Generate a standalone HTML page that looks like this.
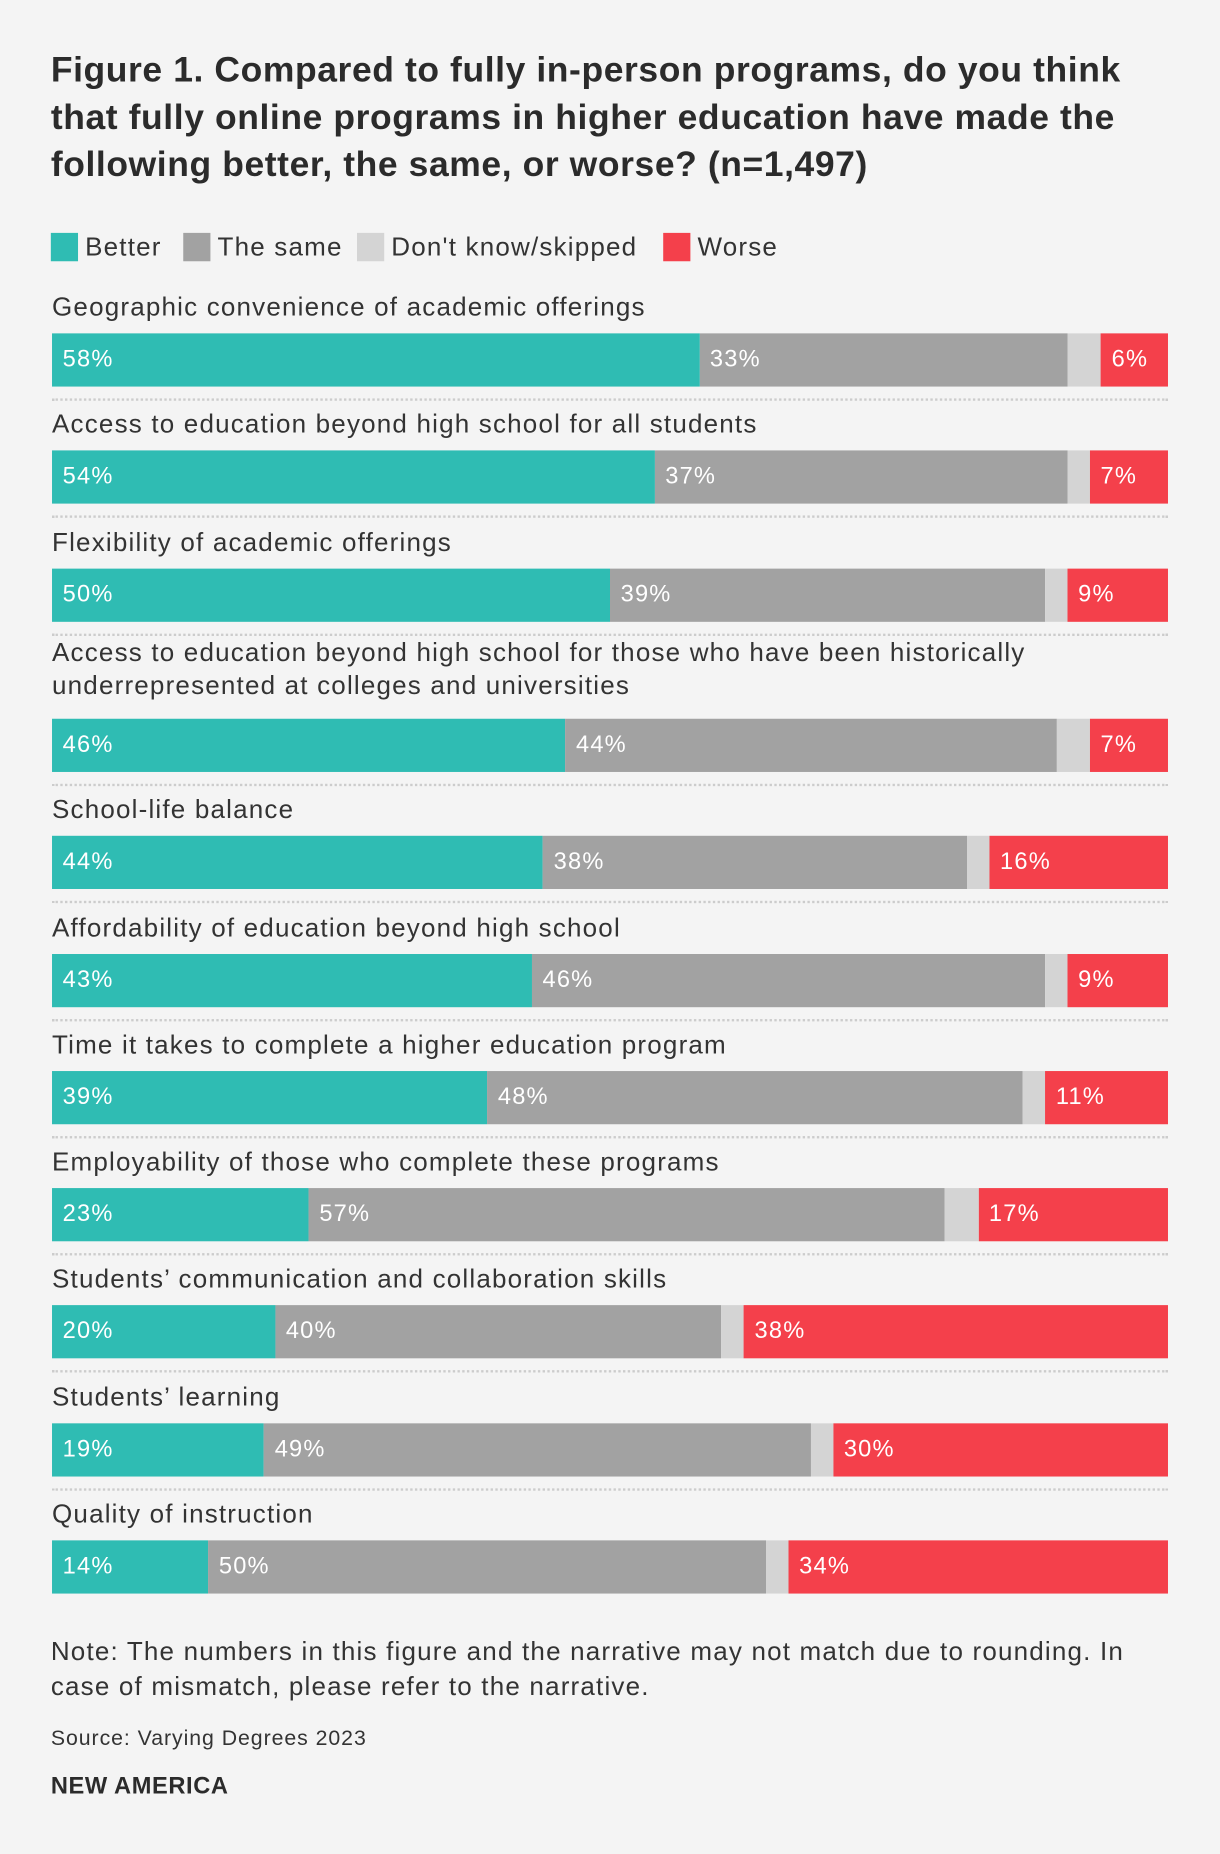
<!DOCTYPE html>
<html><head><meta charset="utf-8"><style>
html,body{margin:0;padding:0;background:#f4f4f4;}
body{width:1220px;height:1854px;overflow:hidden;}
#wrap{width:1032px;height:1568px;transform:scale(1.18217);transform-origin:0 0;position:relative;font-family:"Liberation Sans",sans-serif;color:#333;}
.abs{position:absolute;}
h1{position:absolute;left:43px;top:40px;margin:0;font-size:30px;letter-spacing:0.5px;line-height:40px;font-weight:bold;color:#2b2b2b;width:925px;}
.leg{position:absolute;top:196px;font-size:22px;letter-spacing:1px;display:flex;align-items:center;}
.sw{width:23px;height:24px;margin-right:6px;}
.lbl{position:absolute;left:44px;font-size:22px;letter-spacing:1px;line-height:28px;color:#333;}
.seg{position:absolute;height:45px;color:#fff;font-size:20px;letter-spacing:1px;line-height:45px;box-sizing:border-box;padding-left:9px;overflow:hidden;white-space:nowrap;}
.sep{position:absolute;left:44px;width:944px;border-top:2px dotted #ccc;}
</style></head><body>
<div id="wrap">
<h1>Figure 1. Compared to fully in-person programs, do you think that fully online programs in higher education have made the following better, the same, or worse? (n=1,497)</h1>
<div class="leg" style="left:43px"><div class="sw" style="background:#2fbcb3"></div>Better</div>
<div class="leg" style="left:155px"><div class="sw" style="background:#a2a2a2"></div>The same</div>
<div class="leg" style="left:302px"><div class="sw" style="background:#d4d4d4"></div>Don't know/skipped</div>
<div class="leg" style="left:561px"><div class="sw" style="background:#f4404b"></div>Worse</div>
<div id="rows"></div>
<div class="abs" style="left:43px;top:1382px;font-size:22px;letter-spacing:1px;line-height:30px;width:920px">Note: The numbers in this figure and the narrative may not match due to rounding. In case of mismatch, please refer to the narrative.</div>
<div class="abs" style="left:43px;top:1460px;font-size:18px;letter-spacing:0.8px">Source: Varying Degrees 2023</div>
<div class="abs" style="left:43px;top:1500px;font-size:20px;letter-spacing:0.5px;font-weight:bold;color:#2b2b2b">NEW AMERICA</div>
</div>
<script>
const categories=["Geographic convenience of academic offerings","Access to education beyond high school for all students","Flexibility of academic offerings","Access to education beyond high school for those who have been historically underrepresented at colleges and universities","School-life balance","Affordability of education beyond high school","Time it takes to complete a higher education program","Employability of those who complete these programs","Students’ communication and collaboration skills","Students’ learning","Quality of instruction"];
const better=[58,54,50,46,44,43,39,23,20,19,14];
const same=[33,37,39,44,38,46,48,57,40,49,50];
const worse=[6,7,9,7,16,9,11,17,38,30,34];
const X0=44,W=944;
const xs=v=>v/100*W;
const rows=document.getElementById('rows');
let yTop=282;
categories.forEach((c,i)=>{
  const twoLine=c.length>90;
  const lbl=document.createElement('div');
  lbl.className='lbl';
  
  
  if(twoLine){lbl.style.top=(yTop-70)+'px';lbl.style.width='900px';}
  else lbl.style.top=(yTop-36)+'px';
  lbl.textContent=c;
  rows.appendChild(lbl);
  const dk=Math.max(0,100-better[i]-same[i]-worse[i]);
  const segs=[[better[i],'#2fbcb3',true,'bar-better'],[same[i],'#a2a2a2',true,'bar-same'],[dk,'#d4d4d4',false,'bar-dont-know'],[worse[i],'#f4404b',true,'bar-worse']];
  let cx=0;
  segs.forEach(s=>{
    const d=document.createElement('div');
    d.className='seg';
    
    
    d.style.left=(X0+xs(cx))+'px';d.style.top=yTop+'px';
    d.style.width=xs(s[0])+'px';d.style.background=s[1];
    if(s[2])d.textContent=s[0]+'%';
    rows.appendChild(d);
    cx+=s[0];
  });
  if(i<categories.length-1){
    const sp=document.createElement('div');
    sp.className='sep';
    
    
    sp.style.top=(yTop+55)+'px';
    rows.appendChild(sp);
  }
  const nextTwo=i+1<categories.length&&categories[i+1].length>90;
  yTop+=99.3+(nextTwo?28:0);
});
</script>
</body></html>
